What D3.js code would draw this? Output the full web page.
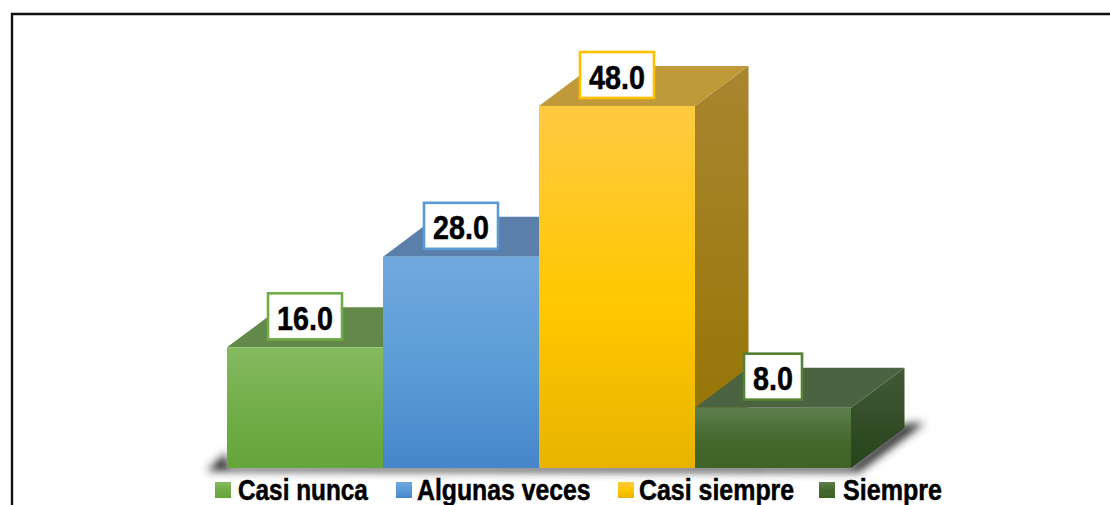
<!DOCTYPE html>
<html><head><meta charset="utf-8">
<style>html,body{margin:0;padding:0;background:#fff;overflow:hidden}svg{display:block}
text{font-family:"Liberation Sans",Arial,sans-serif;font-weight:700;fill:#000;stroke:#000;stroke-width:.5}</style>
<script src="https://cdn.jsdelivr.net/npm/d3@7/dist/d3.min.js"></script></head><body>
<script>
const categories = ["Casi nunca","Algunas veces","Casi siempre","Siempre"];
const values = [16,28,48,8];
const labels = ["16.0","28.0","48.0","8.0"];
const frontStops = [["#85ba61","#70ad47","#66a53a"],["#70a9de","#5b9bd5","#4586ca"],["#ffca42","#ffc800","#e8b400"],["#5e8050","#43682b","#3e6227"]];
const topColors = ["#63894a","#5b7fab","#c09a38","#4b6341"];
const sideColors = [["#4d7a32","#44702c"],["#47709c","#3b6a9c"],["#a98630","#967300"],["#415a36","#26431a"]];
const labelBorders = ["#70ad47","#5b9bd5","#ffc000","#548235"];
const swatchX = [215,396,618,819];
const legendTextX = [238,417,639,843];
const legendStretch = [0.84,0.855,0.86,0.865];
const labelWidths = [76,76,76,60];

const W=1110,H=505, dx=53.5, dy=-40;
const svg=d3.select("body").append("svg").attr("width",W).attr("height",H);
const x=d3.scaleBand().domain(categories).range([227,851]).padding(0);
const y=d3.scaleLinear().domain([0,48]).range([468,106]);
const defs=svg.append("defs");
const fl=defs.append("filter").attr("id","blur").attr("filterUnits","userSpaceOnUse")
  .attr("x",150).attr("y",380).attr("width",840).attr("height",120);
fl.append("feGaussianBlur").attr("stdDeviation",4.5);
categories.forEach((c,i)=>{
  const g=defs.append("linearGradient").attr("id","f"+i).attr("x1",0).attr("y1",0).attr("x2",0).attr("y2",1);
  frontStops[i].forEach((s,k)=>g.append("stop").attr("offset",k==1?0.55:k/2).attr("stop-color",s));
  const h=defs.append("linearGradient").attr("id","s"+i).attr("x1",0).attr("y1",0).attr("x2",0).attr("y2",1);
  sideColors[i].forEach((s,k)=>h.append("stop").attr("offset",k).attr("stop-color",s));
  const sw=defs.append("linearGradient").attr("id","k"+i).attr("x1",0).attr("y1",0).attr("x2",0).attr("y2",1);
  frontStops[i].forEach((s,k)=>sw.append("stop").attr("offset",k/2).attr("stop-color",s));
});

svg.append("path").attr("d",`M${W} 14H12V${H}`).attr("fill","none").attr("stroke","#111").attr("stroke-width",2.4);

const base=y(0), L=x.range()[0], R=x.range()[1];
svg.append("path").attr("filter","url(#blur)").attr("fill","#2c2c2c")
  .attr("d",`M${L-20} 471L${L} 452L${L} 466L${R} 466L${R+dx} 424L${R+dx+20} 423L${R+8} 472Z`);

const bars=svg.append("g").selectAll("g").data(categories).join("g");
const pts=a=>a.map(p=>p.join(",")).join(" ");
bars.each(function(c,i){
  const g=d3.select(this), x0=x(c), x1=x0+x.bandwidth(), t=y(values[i]);
  g.append("polygon").attr("points",pts([[x1,t],[x1+dx,t+dy],[x1+dx,base+dy],[x1,base]])).attr("fill",`url(#s${i})`);
  g.append("polygon").attr("points",pts([[x0,t],[x1,t],[x1+dx,t+dy],[x0+dx,t+dy]])).attr("fill",topColors[i]);
  g.append("rect").attr("x",x0).attr("y",t).attr("width",x.bandwidth()).attr("height",base-t).attr("fill",`url(#f${i})`);
});

const lab=svg.append("g").selectAll("g").data(categories).join("g")
  .attr("transform",(c,i)=>`translate(${x(c)+x.bandwidth()/2},${y(values[i])-31})`);
lab.append("rect").attr("x",(c,i)=>-labelWidths[i]/2+1).attr("y",-23).attr("width",(c,i)=>labelWidths[i]-2).attr("height",46)
  .attr("fill","#fff").attr("stroke",(c,i)=>labelBorders[i]).attr("stroke-width",2.6);
lab.append("text").attr("text-anchor","middle").attr("transform","translate(0,13.5) scale(0.87,1)").attr("font-size",33).text((c,i)=>labels[i]);

const leg=svg.append("g").selectAll("g").data(categories).join("g");
leg.append("rect").attr("x",(c,i)=>swatchX[i]).attr("y",482).attr("width",16).attr("height",16).attr("fill",(c,i)=>`url(#k${i})`);
leg.append("text").attr("transform",(c,i)=>`translate(${legendTextX[i]},499.5) scale(${legendStretch[i]},1)`).attr("font-size",29).text(c=>c);
</script></body></html>
